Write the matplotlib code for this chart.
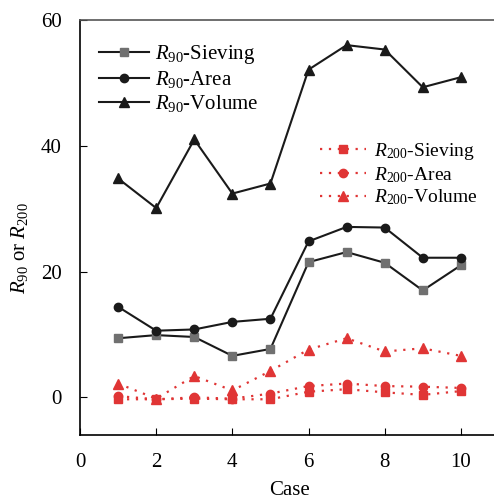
import numpy as np
import matplotlib
matplotlib.use("Agg")
import matplotlib.pyplot as plt

plt.rcParams['font.family'] = ['Liberation Serif', 'DejaVu Serif']
plt.rcParams['mathtext.fontset'] = 'custom'
plt.rcParams['mathtext.rm'] = 'Liberation Serif'
plt.rcParams['mathtext.it'] = 'Liberation Serif:italic'

case = [1, 2, 3, 4, 5, 6, 7, 8, 9, 10]
r90_sieving = [9.4, 9.9, 9.6, 6.6, 7.7, 21.5, 23.1, 21.4, 17.0, 21.0]
r90_area = [14.4, 10.6, 10.8, 12.0, 12.5, 24.8, 27.1, 27.0, 22.2, 22.2]
r90_volume = [34.8, 30.1, 41.0, 32.4, 34.0, 52.1, 56.0, 55.3, 49.3, 50.9]
r200_sieving = [-0.3, -0.3, -0.2, -0.3, -0.3, 0.9, 1.3, 0.8, 0.4, 1.0]
r200_area = [0.2, -0.3, 0.0, -0.2, 0.6, 1.8, 2.2, 1.8, 1.7, 1.5]
r200_volume = [2.2, -0.2, 3.4, 1.1, 4.2, 7.6, 9.4, 7.3, 7.8, 6.6]

fig = plt.figure(figsize=(4.94, 4.99), dpi=100)
ax = fig.add_axes([0.162, 0.128, 0.848, 0.832])

black = '#1a1a1a'
red = '#e03535'
h1 = ax.plot(case, r90_sieving, '-s', color=black, mfc='#707070', mec='#707070', ms=6, lw=1.5)[0]
h2 = ax.plot(case, r90_area, '-o', color=black, ms=6, lw=1.5)[0]
h3 = ax.plot(case, r90_volume, '-^', color=black, ms=7, lw=1.5)[0]
dot = (0, (1, 3))
h4 = ax.plot(case, r200_sieving, 's', ls=dot, color=red, ms=6, lw=1.6)[0]
h5 = ax.plot(case, r200_area, 'o', ls=dot, color=red, ms=6, lw=1.6)[0]
h6 = ax.plot(case, r200_volume, '^', ls=dot, color=red, ms=7, lw=1.6)[0]

ax.set_xlim(0, 11)
ax.set_ylim(-6, 60)
ax.set_xticks([0, 2, 4, 6, 8, 10])
ax.set_yticks([0, 20, 40, 60])
ax.tick_params(direction='in', labelsize=15, length=5, pad=13)
ax.spines['right'].set_visible(False)
for s in ['left', 'bottom', 'top']:
    ax.spines[s].set_linewidth(1.2)
ax.spines['top'].set_color('#555555')

ax.set_xlabel('Case', fontsize=15, labelpad=6)
ax.set_ylabel(r'$R_{90}$ or $R_{200}$', fontsize=15)
ax.yaxis.set_label_coords(-0.12, 0.45)

leg1 = ax.legend([h1, h2, h3],
                 [r'$R_{90}$-Sieving', r'$R_{90}$-Area', r'$R_{90}$-Volume'],
                 loc='upper left', bbox_to_anchor=(0.0, 0.99), frameon=False,
                 fontsize=15, handlelength=2.4, handletextpad=0.3, labelspacing=0.15)
ax.add_artist(leg1)
ax.legend([h4, h5, h6],
          [r'$R_{200}$-Sieving', r'$R_{200}$-Area', r'$R_{200}$-Volume'],
          loc='upper left', bbox_to_anchor=(0.53, 0.75), frameon=False,
          fontsize=14, handlelength=2.4, handletextpad=0.4, labelspacing=0.15)

fig.savefig('out.png', dpi=100)
